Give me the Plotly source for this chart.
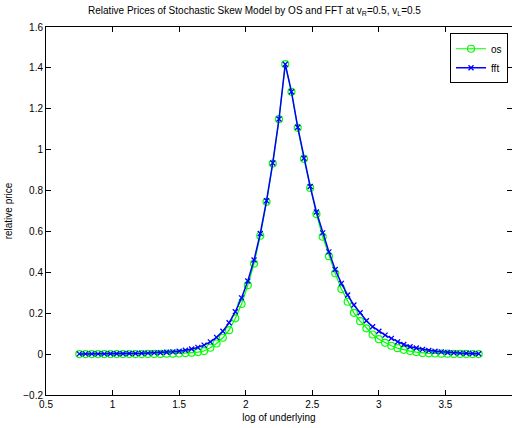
import numpy as np
import plotly.graph_objects as go

# log of underlying grid: 65 points from 0.75 to 3.75
x_start = 0.75
x_step = 3.0 / 64
n_points = 65
log_underlying = [x_start + i * x_step for i in range(n_points)]

# OS relative prices
os_prices = [
    0.000, 0.000, 0.000, 0.000, 0.000, 0.000, 0.000, 0.000, 0.000, 0.000,
    0.000, 0.001, 0.001, 0.001, 0.002, 0.002, 0.003, 0.005, 0.007, 0.010,
    0.015, 0.031, 0.052, 0.080, 0.117, 0.175, 0.245, 0.337, 0.443, 0.579,
    0.745, 0.932, 1.149, 1.418, 1.283, 1.107, 0.955, 0.813, 0.685, 0.574,
    0.479, 0.395, 0.318, 0.256, 0.202, 0.161, 0.126, 0.096, 0.073, 0.055,
    0.041, 0.029, 0.021, 0.015, 0.010, 0.006, 0.004, 0.003, 0.002, 0.002,
    0.001, 0.001, 0.001, 0.000, 0.000,
]

# FFT relative prices
fft_prices = [
    0.001, 0.001, 0.001, 0.001, 0.001, 0.002, 0.002, 0.002, 0.003, 0.003,
    0.004, 0.005, 0.006, 0.007, 0.009, 0.011, 0.014, 0.019, 0.025, 0.033,
    0.044, 0.060, 0.082, 0.112, 0.153, 0.207, 0.275, 0.358, 0.460, 0.590,
    0.750, 0.935, 1.150, 1.418, 1.283, 1.110, 0.958, 0.820, 0.695, 0.593,
    0.500, 0.414, 0.346, 0.289, 0.240, 0.202, 0.163, 0.134, 0.112, 0.093,
    0.077, 0.060, 0.047, 0.036, 0.030, 0.023, 0.018, 0.014, 0.011, 0.008,
    0.006, 0.005, 0.004, 0.003, 0.002,
]

x_ticks = [0.5, 1, 1.5, 2, 2.5, 3, 3.5, 4]
y_ticks = [-0.2, 0, 0.2, 0.4, 0.6, 0.8, 1.0, 1.2, 1.4, 1.6]

FONT = "Liberation Sans, Arial, Helvetica, sans-serif"

fig = go.Figure()
fig.add_trace(go.Scatter(
    x=log_underlying, y=os_prices, name="os", mode="lines+markers",
    line=dict(color="#00FF00", width=1.2),
    marker=dict(symbol="circle-open", size=7, color="#00FF00", line=dict(width=1.2, color="#00FF00")),
))
fig.add_trace(go.Scatter(
    x=log_underlying, y=fft_prices, name="fft", mode="lines+markers",
    line=dict(color="#0000FF", width=1.5),
    marker=dict(symbol="x-thin-open", size=5, color="#0000FF", line=dict(width=1.3, color="#0000FF")),
))

axis_common = dict(
    showline=True, linecolor="black", linewidth=1, mirror="ticks",
    ticks="inside", ticklen=5, tickcolor="black", tickwidth=1,
    showgrid=False, zeroline=False,
    tickfont=dict(family=FONT, size=10, color="black"),
)

fig.update_layout(
    width=512, height=428,
    margin=dict(l=46, r=0, t=27, b=33),
    paper_bgcolor="white", plot_bgcolor="white",
    font=dict(family=FONT, size=10, color="black"),
    title=dict(
        text="Relative Prices of Stochastic Skew Model by OS and FFT at v<sub>R</sub>=0.5, v<sub>L</sub>=0.5",
        x=0.497, xref="container", xanchor="center", y=0.975, yref="container", yanchor="middle",
        font=dict(family=FONT, size=10, color="black"),
    ),
    xaxis=dict(range=[0.5, 4], tickvals=x_ticks, ticktext=[f"{v:g}" for v in x_ticks],
               title=dict(text="log of underlying", standoff=4, font=dict(family=FONT, size=10)),
               **axis_common),
    yaxis=dict(range=[-0.2, 1.6], tickvals=y_ticks,
               ticktext=[("\u2212" + f"{-v:g}") if v < 0 else f"{v:g}" for v in y_ticks],
               title=dict(text="relative price", standoff=8, font=dict(family=FONT, size=10)),
               **axis_common),
    legend=dict(
        x=0.867, y=0.983, xanchor="left", yanchor="top",
        bordercolor="black", borderwidth=1, bgcolor="white",
        font=dict(family=FONT, size=10), itemwidth=30, tracegroupgap=0,
    ),
    showlegend=True,
)

fig.write_html("out.html")
